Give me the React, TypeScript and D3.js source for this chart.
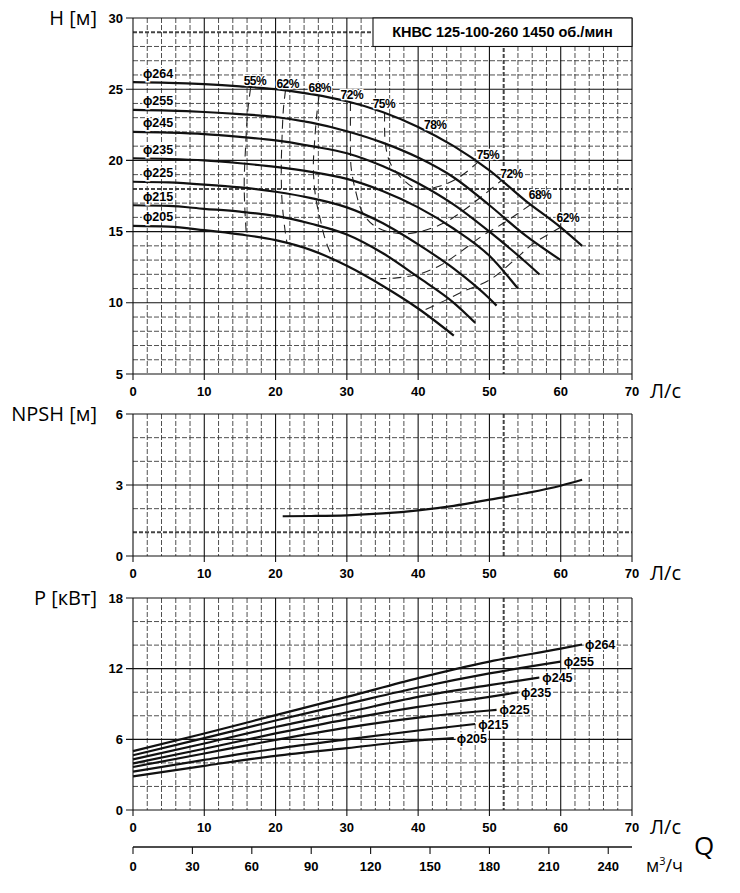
import * as d3 from "d3";
import { useRef, useEffect } from "react";

const W = 740;
const H = 893;

// Q axes
const qTicks = [0, 10, 20, 30, 40, 50, 60, 70];
const m3hTicks = [0, 30, 60, 90, 120, 150, 180, 210, 240];

const diameters = ["264", "255", "245", "235", "225", "215", "205"];

// H(Q) [Q л/с, H м]
const head264 = [[0, 25.5], [5, 25.45], [10, 25.35], [15, 25.2], [20, 25.0], [25, 24.65], [30, 24.15], [35, 23.4], [40, 22.35], [45, 21.0], [50, 19.3], [55, 17.2], [60, 15.3], [63, 14.0]];
const head255 = [[0, 23.55], [5, 23.5], [10, 23.4], [15, 23.25], [20, 23.05], [25, 22.65], [30, 22.05], [35, 21.25], [40, 20.2], [45, 18.8], [50, 16.85], [55, 14.75], [60, 13.0]];
const head245 = [[0, 22.0], [5, 21.95], [10, 21.85], [15, 21.65], [20, 21.4], [25, 21.0], [30, 20.5], [35, 19.6], [40, 18.4], [45, 16.9], [50, 15.0], [55, 12.9], [57, 12.0]];
const head235 = [[0, 20.15], [5, 20.1], [10, 20.0], [15, 19.8], [20, 19.55], [25, 19.2], [30, 18.7], [35, 17.85], [40, 16.7], [45, 15.2], [50, 13.3], [54, 11.0]];
const head225 = [[0, 18.5], [5, 18.45], [10, 18.3], [15, 18.1], [20, 17.8], [25, 17.35], [30, 16.7], [35, 15.6], [40, 14.1], [45, 12.4], [50, 10.3], [51, 9.8]];
const head215 = [[0, 16.85], [5, 16.8], [10, 16.6], [15, 16.4], [20, 16.1], [25, 15.55], [30, 14.8], [35, 13.5], [40, 11.8], [45, 10.0], [48, 8.6]];
const head205 = [[0, 15.4], [5, 15.35], [10, 15.1], [15, 14.8], [20, 14.4], [25, 13.7], [30, 12.6], [35, 11.2], [40, 9.6], [45, 7.7]];
const headCurves = [head264, head255, head245, head235, head225, head215, head205];

// КПД (линии равного КПД)
const eff55 = [[16.5, 25.1], [16.1, 23.5], [15.8, 21], [15.6, 18.5], [15.7, 16.5], [15.9, 14.8]];
const eff62L = [[21.4, 24.95], [21.1, 23.6], [20.9, 21.5], [20.8, 19.5], [20.9, 17.2], [21.3, 15.2], [21.6, 14.2]];
const eff68L = [[26.1, 24.55], [25.8, 23.3], [25.5, 21.5], [25.3, 19.5], [25.6, 17.5], [26.3, 15.8], [27, 14.4], [28.2, 12.9]];
const eff72 = [[30.5, 24.1], [30.5, 22.8], [30.5, 21], [30.6, 19.5], [31.2, 17.9], [32.3, 16.25], [34.2, 15.3], [37.5, 14.85], [40.3, 15], [43.6, 15.6], [46.4, 16.5], [49, 17.5], [51.6, 18.55]];
const eff75 = [[35.3, 23.35], [35.4, 21.2], [36.1, 19.8], [38, 18.6], [39.9, 18.0], [43.1, 18.2], [46, 18.9], [48.3, 19.85]];
const eff68R = [[55.8, 16.9], [52, 15.6], [49, 14.7], [46, 13.6], [43, 12.6], [40, 12.0], [37, 11.75], [34.7, 11.7]];
const eff62R = [[60, 15.3], [56, 14.1], [53.5, 13.0], [50, 11.6], [46.3, 10.8], [43.5, 10.1], [40.5, 9.4]];
const effCurves = [eff55, eff62L, eff68L, eff72, eff75, eff68R, eff62R];

const effLabels = ["55%", "62%", "68%", "72%", "75%", "78%", "75%", "72%", "68%", "62%"];
const effLabelQ = [17.1, 21.7, 26.2, 30.7, 35.2, 42.4, 49.8, 53.1, 57.1, 61.0];
const effLabelH = [25.6, 25.4, 25.1, 24.6, 24.0, 22.5, 20.4, 19.1, 17.6, 16.0];

// NPSH(Q)
const npsh = [[21, 1.68], [25, 1.69], [30, 1.72], [35, 1.8], [40, 1.93], [45, 2.12], [50, 2.38], [55, 2.65], [60, 2.97], [63, 3.22]];

// P(Q) [кВт]
const power264 = [[0, 5.0], [10, 6.5], [20, 8.05], [30, 9.6], [40, 11.2], [50, 12.6], [60, 13.7], [63, 14.05]];
const power255 = [[0, 4.65], [10, 6.1], [20, 7.6], [30, 9.0], [40, 10.4], [50, 11.6], [60, 12.6]];
const power245 = [[0, 4.3], [10, 5.65], [20, 7.05], [30, 8.3], [40, 9.6], [50, 10.6], [57, 11.25]];
const power235 = [[0, 3.95], [10, 5.2], [20, 6.5], [30, 7.7], [40, 8.75], [50, 9.6], [54, 10.0]];
const power225 = [[0, 3.65], [10, 4.8], [20, 5.95], [30, 7.0], [40, 7.85], [50, 8.45], [51, 8.5]];
const power215 = [[0, 3.25], [10, 4.25], [20, 5.2], [30, 6.0], [40, 6.75], [48, 7.3]];
const power205 = [[0, 2.85], [10, 3.75], [20, 4.6], [30, 5.25], [40, 5.9], [45, 6.1]];
const powerCurves = [power264, power255, power245, power235, power225, power215, power205];

const title = "КНВС 125-100-260 1450 об./мин";

const numFont = "'Liberation Sans', Arial, sans-serif";
const lblFont = "'Open Sans', 'Noto Sans', sans-serif";
const gridGrey = "#3c3c3c";

export default function App() {
  const svgRef = useRef<SVGSVGElement | null>(null);

  useEffect(() => {
    if (!svgRef.current) return;
    const svg = d3.select(svgRef.current);
    svg.selectAll("*").remove();

    const x = d3.scaleLinear().domain([0, 70]).range([133, 632]);
    const xM = d3.scaleLinear().domain([0, 252]).range([133, 632]);
    const yH = d3.scaleLinear().domain([5, 30]).range([374, 18]);
    const yN = d3.scaleLinear().domain([0, 6]).range([556, 414]);
    const yP = d3.scaleLinear().domain([0, 18]).range([810, 598]);

    // Raster + Rahmen für ein Panel
    function panel(y: any, step: number, minor: number, thickY: number[], title: string) {
      const g = svg.append("g");
      const [y0, y1] = y.domain();
      const minorX = d3.range(0, 70.01, 2).filter(q => q % 10 !== 0 && q !== 52);
      const minorY = d3.range(y0, y1 + 0.01, minor).filter(v => Math.abs((v - y0) % step) > 0.01 && Math.abs((v - y0) % step - step) > 0.01 && !thickY.includes(v));

      g.selectAll(".mx").data(minorX).join("line")
        .attr("x1", d => x(d)).attr("x2", d => x(d))
        .attr("y1", y(y1)).attr("y2", y(y0))
        .attr("stroke", gridGrey).attr("stroke-width", 0.9).attr("stroke-dasharray", "5,2");
      g.selectAll(".my").data(minorY).join("line")
        .attr("x1", x(0)).attr("x2", x(70))
        .attr("y1", d => y(d)).attr("y2", d => y(d))
        .attr("stroke", gridGrey).attr("stroke-width", 0.9).attr("stroke-dasharray", "5,2");

      // dicke gestrichelte Linien
      g.append("line")
        .attr("x1", x(52)).attr("x2", x(52)).attr("y1", y(y1)).attr("y2", y(y0))
        .attr("stroke", "#444").attr("stroke-width", 2).attr("stroke-dasharray", "4,2");
      thickY.forEach(v => {
        g.append("line")
          .attr("x1", x(0)).attr("x2", x(70)).attr("y1", y(v)).attr("y2", y(v))
          .attr("stroke", "#444").attr("stroke-width", 2).attr("stroke-dasharray", "4,2");
      });

      const majorY = d3.range(y0, y1 + 0.01, step);
      g.selectAll(".Mx").data(qTicks).join("line")
        .attr("x1", d => x(d)).attr("x2", d => x(d))
        .attr("y1", y(y1)).attr("y2", y(y0) + 6)
        .attr("stroke", "#111").attr("stroke-width", 1.1);
      g.selectAll(".My").data(majorY).join("line")
        .attr("x1", x(0) - 7).attr("x2", x(70))
        .attr("y1", d => y(d)).attr("y2", d => y(d))
        .attr("stroke", "#111").attr("stroke-width", 1.1);

      g.selectAll(".ty").data(majorY).join("text")
        .attr("x", 123).attr("y", d => y(d)).attr("dy", "0.36em")
        .attr("text-anchor", "end")
        .style("font", `bold 13px ${numFont}`)
        .text(d => d);
      g.selectAll(".tx").data(qTicks).join("text")
        .attr("x", d => x(d)).attr("y", y(y0) + 22)
        .attr("text-anchor", "middle")
        .style("font", `bold 13px ${numFont}`)
        .text(d => d);
      g.append("text")
        .attr("x", 650).attr("y", y(y0) + 24)
        .style("font", `20px ${lblFont}`)
        .text("Л/с");
      g.append("text")
        .attr("x", 97).attr("y", y(y1) + 7)
        .attr("text-anchor", "end")
        .style("font", `20px ${lblFont}`)
        .text(title);
      return g;
    }

    const line = (xs: any, ys: any) => d3.line<number[]>().x(d => xs(d[0])).y(d => ys(d[1])).curve(d3.curveMonotoneX);

    // --- H(Q) ---
    const gH = panel(yH, 5, 1, [29, 18], "H [м]");

    const effLine = d3.line<number[]>().x(d => x(d[0])).y(d => yH(d[1])).curve(d3.curveCatmullRom);
    gH.append("g").selectAll("path").data(effCurves).join("path")
      .attr("d", d => effLine(d))
      .attr("fill", "none").attr("stroke", "#222").attr("stroke-width", 1.1)
      .attr("stroke-dasharray", "9,6");

    gH.append("g").selectAll("path").data(headCurves).join("path")
      .attr("d", d => line(x, yH)(d))
      .attr("fill", "none").attr("stroke", "#111").attr("stroke-width", 2.2);

    gH.append("g").selectAll("text").data(diameters).join("text")
      .attr("x", 143).attr("y", (d, i) => yH(headCurves[i][0][1]) - 9).attr("dy", "0.36em")
      .style("font", `bold 12.5px ${numFont}`)
      .attr("stroke", "#fff").attr("stroke-width", 3).attr("paint-order", "stroke")
      .text(d => "ϕ" + d);

    gH.append("g").selectAll("text").data(effLabels).join("text")
      .attr("x", (d, i) => x(effLabelQ[i])).attr("y", (d, i) => yH(effLabelH[i])).attr("dy", "0.36em")
      .attr("text-anchor", "middle")
      .style("font", `bold 12px ${numFont}`).style("letter-spacing", "-0.5px")
      .attr("stroke", "#fff").attr("stroke-width", 2.5).attr("paint-order", "stroke")
      .text(d => d);

    // Titelkasten
    gH.append("rect")
      .attr("x", 373).attr("y", yH(30)).attr("width", x(70) - 373).attr("height", yH(28) - yH(30))
      .attr("fill", "#fff").attr("stroke", "#111").attr("stroke-width", 1.1);
    gH.append("text")
      .attr("x", (373 + x(70)) / 2).attr("y", (yH(30) + yH(28)) / 2).attr("dy", "0.36em")
      .attr("text-anchor", "middle")
      .style("font", `bold 14.5px ${numFont}`)
      .text(title);

    // --- NPSH ---
    const gN = panel(yN, 3, 1, [1], "NPSH [м]");
    gN.append("path")
      .attr("d", line(x, yN)(npsh))
      .attr("fill", "none").attr("stroke", "#111").attr("stroke-width", 2.2);

    // --- P(Q) ---
    const gP = panel(yP, 6, 2, [], "P [кВт]");
    gP.append("g").selectAll("path").data(powerCurves).join("path")
      .attr("d", d => line(x, yP)(d))
      .attr("fill", "none").attr("stroke", "#111").attr("stroke-width", 2.2);
    gP.append("g").selectAll("text").data(diameters).join("text")
      .attr("x", (d, i) => x(powerCurves[i][powerCurves[i].length - 1][0]) + 3)
      .attr("y", (d, i) => yP(powerCurves[i][powerCurves[i].length - 1][1])).attr("dy", "0.36em")
      .style("font", `bold 12.5px ${numFont}`)
      .attr("stroke", "#fff").attr("stroke-width", 3).attr("paint-order", "stroke")
      .text(d => "ϕ" + d);

    // --- м³/ч Achse ---
    const gM = svg.append("g");
    gM.append("line")
      .attr("x1", x(0)).attr("x2", x(70)).attr("y1", 847).attr("y2", 847)
      .attr("stroke", "#111").attr("stroke-width", 1.3);
    gM.selectAll(".t").data(m3hTicks).join("line")
      .attr("x1", d => xM(d)).attr("x2", d => xM(d)).attr("y1", 847).attr("y2", 854)
      .attr("stroke", "#111").attr("stroke-width", 1.1);
    gM.selectAll("text.n").data(m3hTicks).join("text")
      .attr("x", d => xM(d)).attr("y", 871)
      .attr("text-anchor", "middle")
      .style("font", `bold 13px ${numFont}`)
      .text(d => d);
    const unit = gM.append("text").attr("x", 646).attr("y", 872).style("font", `18px ${lblFont}`);
    unit.append("tspan").text("м");
    unit.append("tspan").attr("dy", -7).style("font-size", "11px").text("3");
    unit.append("tspan").attr("dy", 7).text("/ч");
    gM.append("text")
      .attr("x", 694).attr("y", 855)
      .style("font", `26px ${lblFont}`)
      .text("Q");
  }, []);

  return (
    <svg ref={svgRef} width={W} height={H}
      style={{ position: "absolute", left: 0, top: 0, background: "#fff" }} />
  );
}
